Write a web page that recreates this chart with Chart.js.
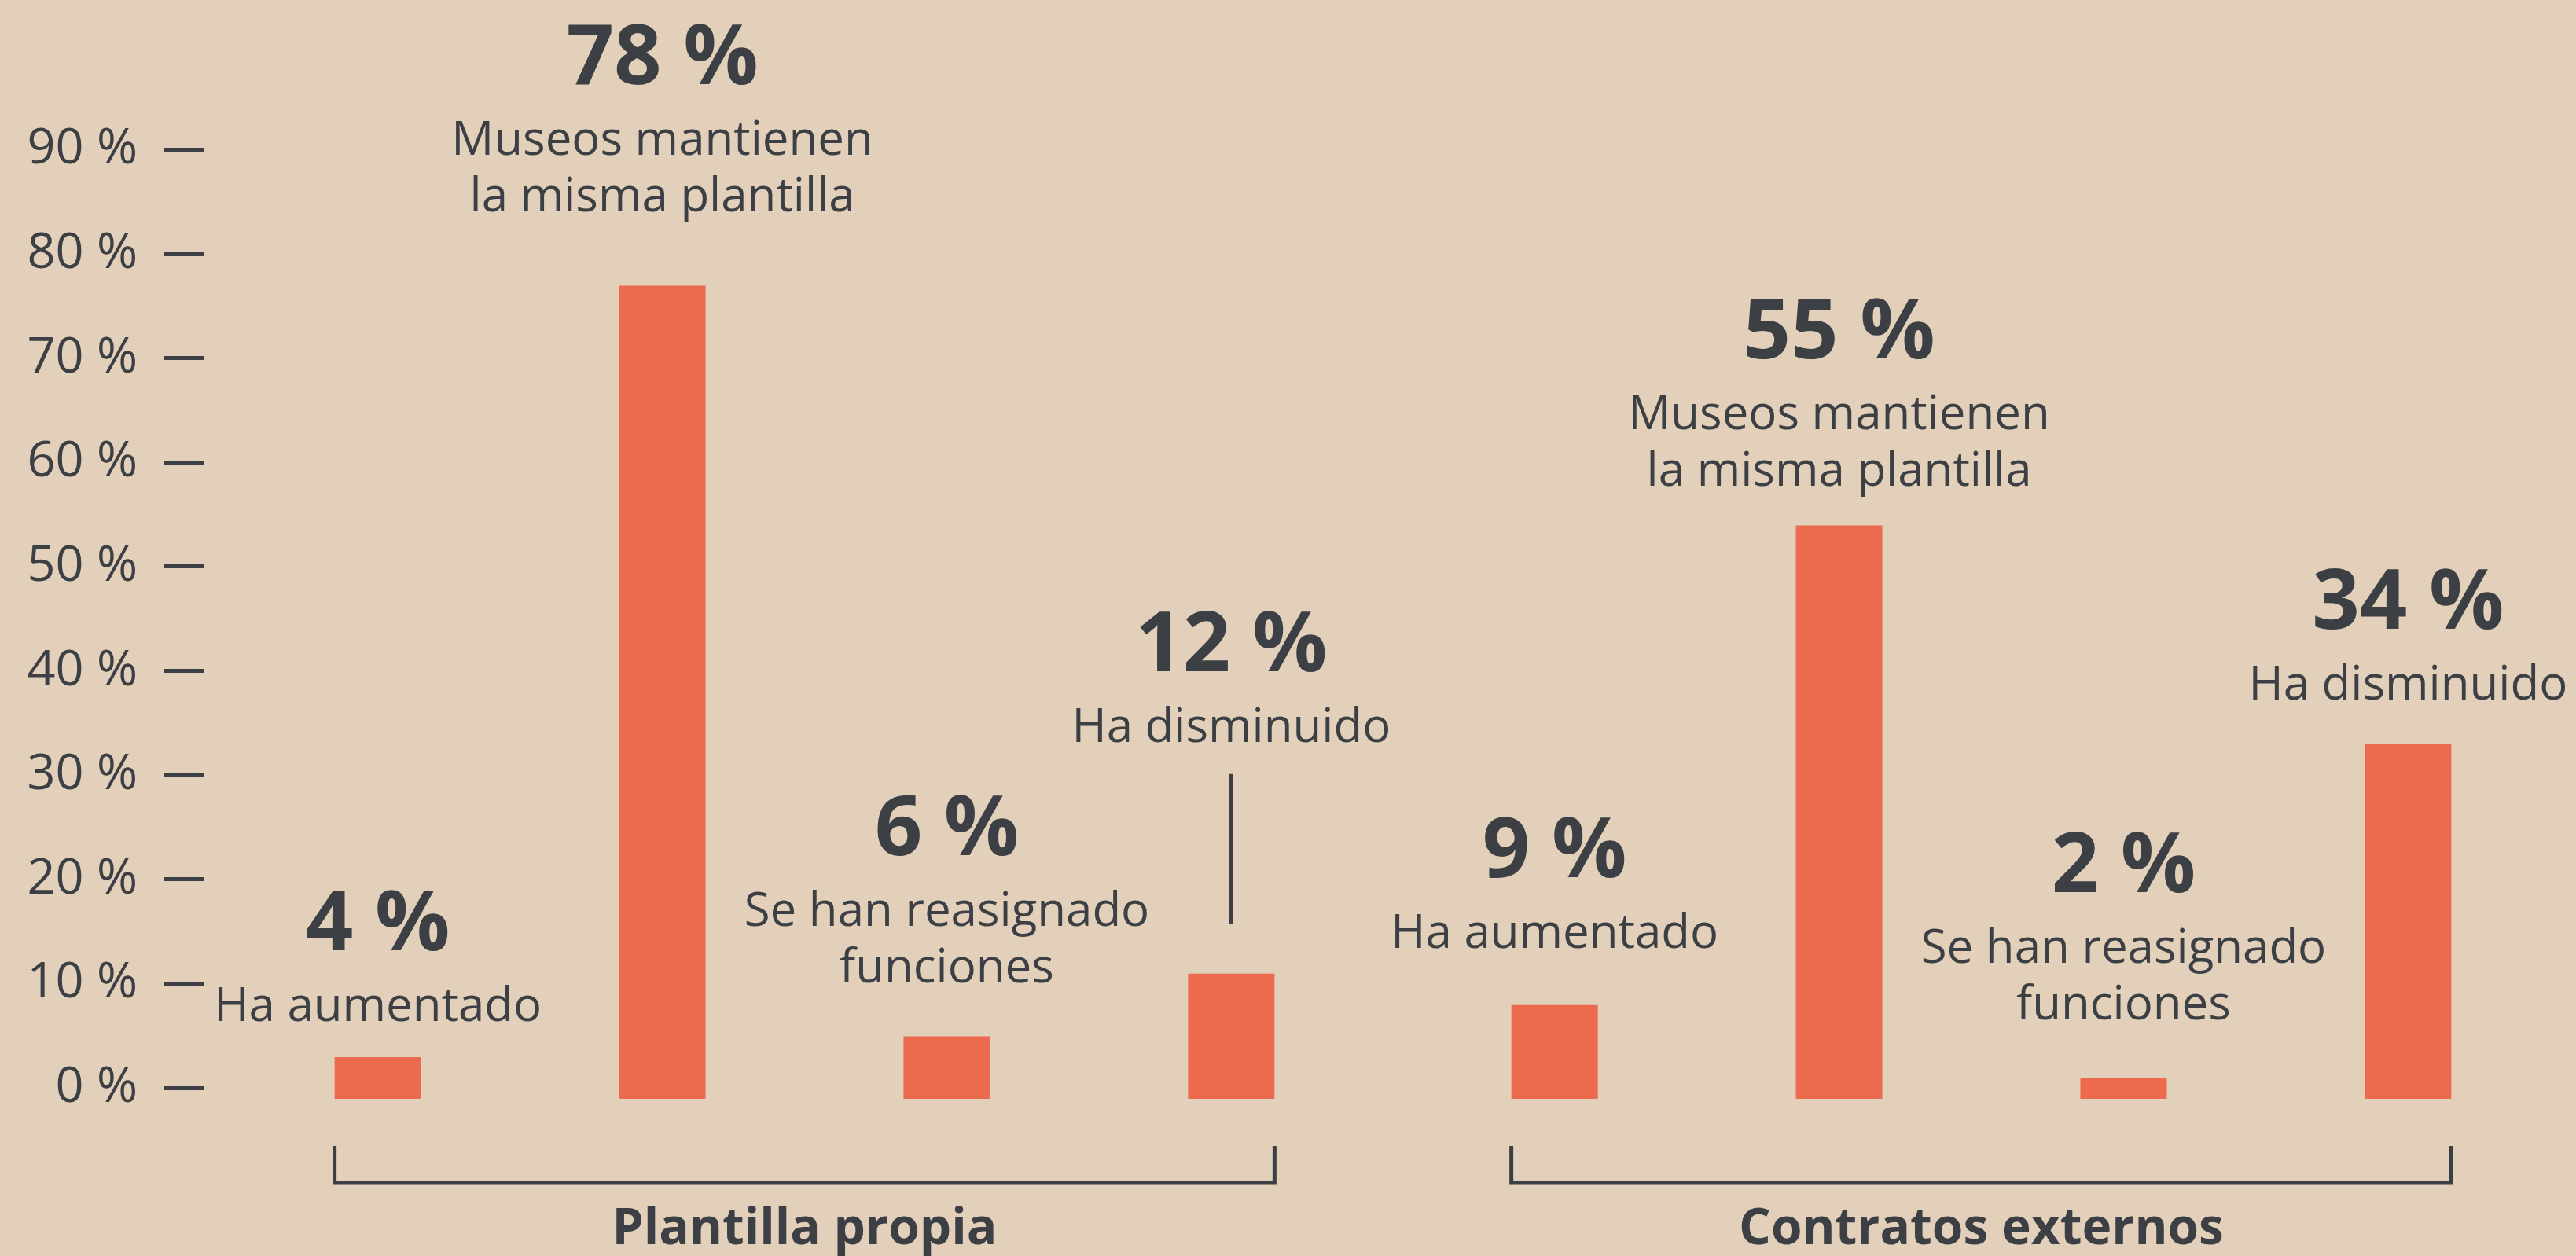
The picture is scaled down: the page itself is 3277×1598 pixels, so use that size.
<!DOCTYPE html>
<html lang="es">
<head>
<meta charset="utf-8">
<title>Plantilla de los museos</title>
<script src="https://cdn.jsdelivr.net/npm/chart.js@4.4.1/dist/chart.umd.min.js"></script>
<style>
    html, body { margin: 0; padding: 0; background: #e3d0bb; }
    canvas { display: block; }
</style>
</head>
<body>
<canvas id="grafico" width="3277" height="1598"></canvas>
<script>
/*******************************************************************************/
// Datos

const grupos = ["Plantilla propia", "Contratos externos"];
const respuestas = [
    ["Ha aumentado"],
    ["Museos mantienen", "la misma plantilla"],
    ["Se han reasignado", "funciones"],
    ["Ha disminuido"]
];
const haAumentado = [4, 9];
const mismaPlantilla = [78, 55];
const reasignado = [6, 2];
const haDisminuido = [12, 34];
const ticksPorcentaje = [0, 10, 20, 30, 40, 50, 60, 70, 80, 90];

/*******************************************************************************/
// Estilos

const colorBarra = "#ec6a4d";
const colorTexto = "#3c3f44";
const fuente = "'Open Sans', 'Noto Sans', sans-serif";
const desfaseEje = 1.05; // las marcas del eje quedan algo por encima de la base de las barras

// px entre lo alto de cada barra y la ultima linea de su texto (por respuesta y grupo)
const distanciaTexto = [[46, 73], [95, 51], [68, 74], [295, 57]];
// la barra de 12 % lleva una linea hasta su texto
const lineaGuia = { serie: 3, grupo: 0, desde: 63, hasta: 254 };

/*******************************************************************************/
// Etiquetas, linea guia y corchetes

const etiquetas = {
    id: "etiquetas",
    afterDatasetsDraw(chart) {
        const ctx = chart.ctx;
        ctx.save();
        ctx.fillStyle = colorTexto;
        ctx.strokeStyle = colorTexto;
        ctx.textAlign = "center";
        ctx.textBaseline = "alphabetic";

        chart.data.datasets.forEach((dataset, i) => {
            const meta = chart.getDatasetMeta(i);
            meta.data.forEach((barra, j) => {
                const base = barra.y - distanciaTexto[i][j];
                if (i === lineaGuia.serie && j === lineaGuia.grupo) {
                    ctx.lineWidth = 5;
                    ctx.beginPath();
                    ctx.moveTo(barra.x, barra.y - lineaGuia.desde);
                    ctx.lineTo(barra.x, barra.y - lineaGuia.hasta);
                    ctx.stroke();
                }
                const lineas = respuestas[i];
                ctx.font = "400 60px " + fuente;
                lineas.forEach((linea, k) => {
                    ctx.fillText(linea, barra.x, base - (lineas.length - 1 - k) * 72);
                });
                ctx.font = "700 106px " + fuente;
                ctx.fillText(dataset.data[j] + " %", barra.x, base - (lineas.length - 1) * 72 - 90);
            });
        });

        // corchete bajo cada grupo
        const abajo = chart.chartArea.bottom;
        ctx.lineWidth = 5;
        ctx.lineJoin = "miter";
        grupos.forEach((grupo, j) => {
            const primera = chart.getDatasetMeta(0).data[j];
            const ultima = chart.getDatasetMeta(chart.data.datasets.length - 1).data[j];
            const izq = primera.x - primera.width / 2;
            const der = ultima.x + ultima.width / 2;
            ctx.beginPath();
            ctx.moveTo(izq, abajo + 60);
            ctx.lineTo(izq, abajo + 107);
            ctx.lineTo(der, abajo + 107);
            ctx.lineTo(der, abajo + 60);
            ctx.stroke();
        });
        ctx.restore();
    }
};

/*******************************************************************************/
// Grafico

function serie(nombre, valores) {
    return {
        label: nombre,
        data: valores,
        backgroundColor: colorBarra,
        borderWidth: 0,
        xAxisID: "x",
        yAxisID: "y",
        categoryPercentage: 0.967,
        barPercentage: 0.304
    };
}

const ctx = document.getElementById("grafico").getContext("2d");
new Chart(ctx, {
    type: "bar",
    data: {
        labels: grupos,
        datasets: [
            serie(respuestas[0].join(" "), haAumentado),
            serie(respuestas[1].join(" "), mismaPlantilla),
            serie(respuestas[2].join(" "), reasignado),
            serie(respuestas[3].join(" "), haDisminuido)
        ]
    },
    options: {
        responsive: false,
        animation: false,
        devicePixelRatio: 1,
        layout: {
            padding: { top: 71, right: 8, bottom: 0, left: 0 }
        },
        plugins: {
            legend: { display: false },
            tooltip: { enabled: false }
        },
        scales: {
            x: {
                afterFit: (eje) => {
                    eje.height = 200;
                },
                grid: { display: false },
                border: { display: false },
                ticks: {
                    color: colorTexto,
                    padding: 127,
                    font: { family: fuente, size: 64, weight: "700", lineHeight: 1 }
                }
            },
            yTicks: {
                position: "left",
                min: -desfaseEje,
                max: 100 - desfaseEje,
                afterBuildTicks: (eje) => {
                    eje.ticks = ticksPorcentaje.map((v) => ({ value: v }));
                },
                afterFit: (eje) => {
                    eje.width = 275;
                },
                border: { display: false },
                grid: {
                    drawOnChartArea: false,
                    tickLength: 66,
                    tickWidth: 5,
                    tickColor: colorTexto,
                    tickBorderDash: [51, 200]
                },
                ticks: {
                    color: colorTexto,
                    padding: 34,
                    font: { family: fuente, size: 63, weight: "400" },
                    callback: (v) => v + " %"
                }
            },
            y: {
                display: false,
                min: 0,
                max: 100
            }
        }
    },
    plugins: [etiquetas]
});
</script>
</body>
</html>
